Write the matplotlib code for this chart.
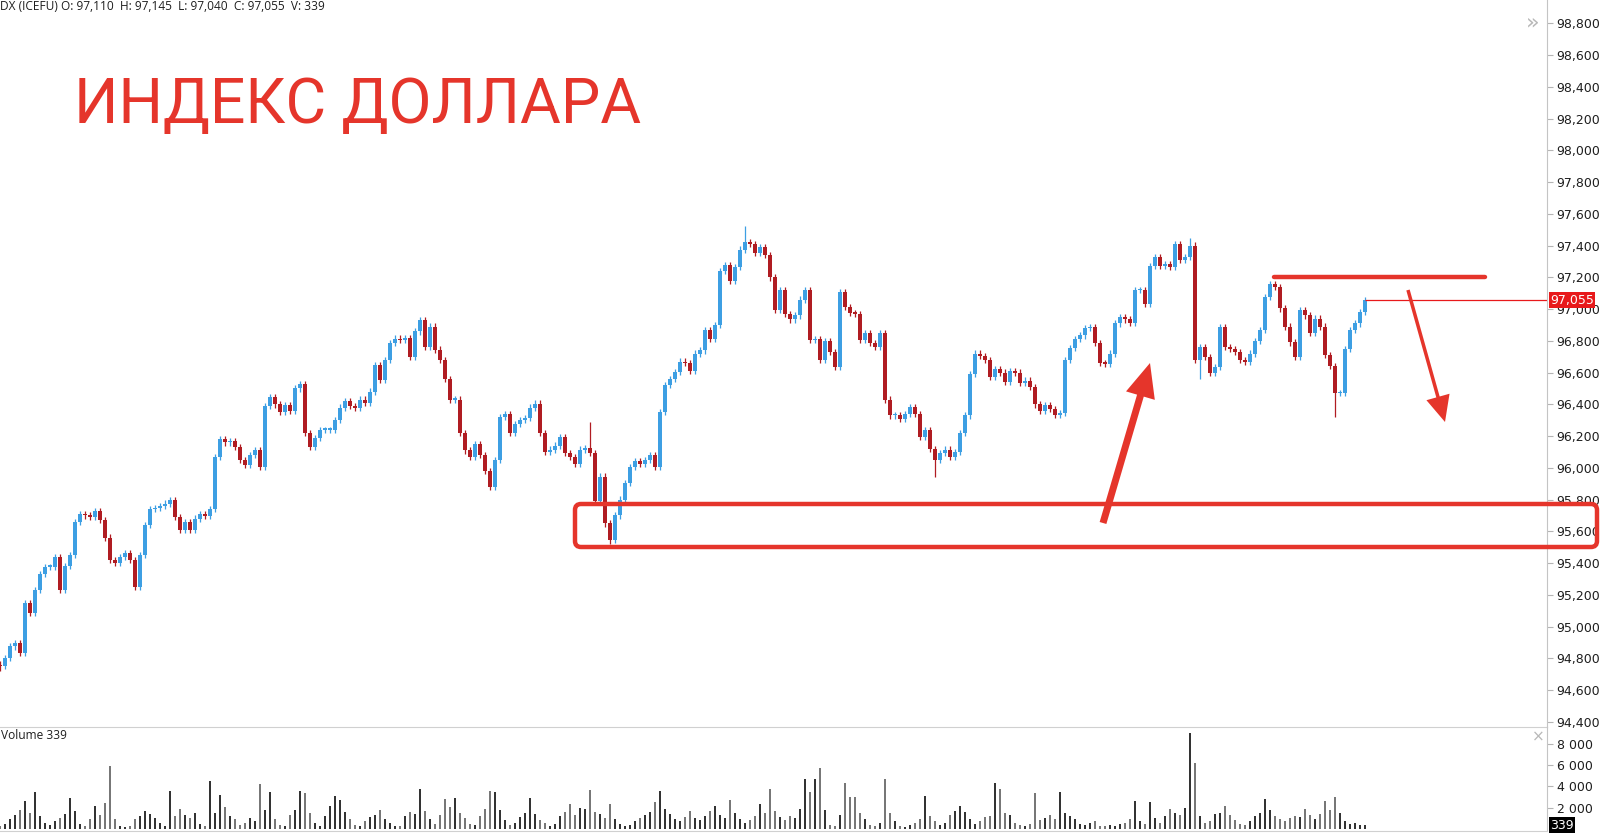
import matplotlib
matplotlib.use("Agg")
import matplotlib.pyplot as plt
from matplotlib.patches import FancyBboxPatch, FancyArrow
import numpy as np

# closes, one candle every 5 px of the original chart
closes = [
    94750, 94800, 94875, 94895, 94835, 95150, 95085, 95230, 95330, 95375,
    95375, 95440, 95230, 95380, 95450, 95660, 95710, 95700, 95690, 95730,
    95670, 95560, 95420, 95400, 95440, 95465, 95420, 95250, 95450, 95640,
    95740, 95745, 95760, 95775, 95795, 95690, 95610, 95660, 95610, 95680,
    95710, 95695, 95740, 96070, 96180, 96160, 96170, 96130, 96050, 96020,
    96080, 96110, 96005, 96390, 96445, 96400, 96355, 96395, 96360, 96500,
    96530, 96220, 96130, 96190, 96240, 96240, 96240, 96300, 96380, 96420,
    96390, 96380, 96430, 96410, 96480, 96650, 96555, 96680, 96785, 96815,
    96805, 96820, 96700, 96860, 96930, 96760, 96890, 96745, 96680, 96560,
    96430, 96430, 96220, 96110, 96070, 96150, 96080, 95980, 95880, 96050,
    96320, 96340, 96220, 96275, 96300, 96315, 96380, 96405, 96220, 96100,
    96115, 96140, 96195, 96095, 96070, 96025, 96115, 96125, 96095, 95790,
    95945, 95650, 95545, 95700, 95800, 95905, 96005, 96045, 96025, 96050,
    96080, 96005, 96350, 96520, 96560, 96605, 96670, 96660, 96610, 96720,
    96740, 96870, 96815, 96900, 97240, 97280, 97180, 97265, 97375, 97420,
    97410, 97355, 97390, 97340, 97200, 96995, 97120, 96970, 96935, 96960,
    97060, 97120, 96805, 96810, 96680, 96800, 96730, 96635, 97110, 97015,
    96975, 96970, 96805, 96850, 96785, 96760, 96850, 96430, 96330, 96330,
    96310, 96340, 96385, 96340, 96195, 96240, 96120, 96050, 96095, 96115,
    96070, 96100, 96220, 96330, 96590, 96720, 96705, 96680, 96575, 96620,
    96600, 96540, 96610, 96600, 96535, 96550, 96510, 96400, 96360, 96395,
    96370, 96335, 96345, 96680, 96755, 96810, 96835, 96880, 96885, 96785,
    96660, 96655, 96720, 96910, 96950, 96935, 96915, 97120, 97120, 97035,
    97270, 97330, 97275, 97285, 97265, 97410, 97310, 97330, 97400, 96680,
    96760, 96700, 96600, 96635, 96885, 96760, 96750, 96730, 96680, 96665,
    96720, 96800, 96870, 97075, 97160, 97140, 97005, 96890, 96790, 96700,
    96995, 96960, 96850, 96940, 96890, 96710, 96640, 96470, 96470, 96750,
    96870, 96910, 96980, 97055,
]
first_open = 94760

# longer wicks that stand out
wick_hi = {149: 97525, 238: 97450, 118: 96290}
wick_lo = {0: 94720, 122: 95520, 187: 95940, 267: 96320, 240: 96560}

volumes = [
    300, 500, 900, 1300, 1800, 2600, 1500, 3500, 1200, 600,
    400, 700, 1000, 1400, 2900, 1700, 500, 300, 900, 2200,
    1300, 2400, 5900, 900, 300, 200, 250, 900, 1200, 1700,
    1400, 1000, 600, 300, 3600, 1200, 1900, 1300, 1000, 1500,
    500, 300, 4500, 1500, 3200, 2100, 1200, 900, 400, 600,
    1000, 700, 4250, 1800, 3500, 900, 400, 300, 1300, 1800,
    3600, 3400, 1500, 600, 300, 1200, 2200, 3100, 2700, 1600,
    900, 400, 300, 700, 1100, 1300, 1750, 900, 600, 300,
    250, 1200, 1600, 1400, 3800, 1700, 900, 500, 1300, 2800,
    2100, 2900, 1500, 1000, 500, 400, 1200, 1900, 3600, 3500,
    1800, 800, 400, 600, 1100, 1500, 2900, 1400, 800, 600,
    300, 500, 1200, 1600, 2300, 1300, 2000, 1900, 3700, 1600,
    1400, 1000, 2300, 900, 500, 300, 400, 700, 1000, 1300,
    1600, 2500, 3600, 1900, 1400, 900, 700, 1100, 1650, 1000,
    800, 1200, 1700, 2200, 1300, 1000, 2700, 1500, 900, 600,
    800, 1200, 2300, 1500, 3800, 1700, 1100, 800, 1200, 1000,
    1900, 4700, 3500, 4700, 5700, 1800, 400, 300, 1300, 4300,
    3000, 3000, 1500, 900, 400, 300, 600, 4700, 1500, 700,
    300, 200, 400, 600, 900, 3100, 1200, 700, 400, 600,
    1300, 1700, 2200, 1600, 900, 500, 700, 1100, 1200, 4300,
    3800, 1500, 1300, 600, 400, 300, 500, 3400, 800, 1000,
    1300, 900, 3500, 1500, 1200, 900, 500, 400, 600, 700,
    300, 250, 400, 300, 500, 600, 900, 2650, 700, 500,
    2500, 1000, 600, 1200, 1900, 1500, 1300, 2000, 9000, 6200,
    1200, 600, 700, 1400, 1500, 2200, 1300, 800, 500, 400,
    700, 1200, 1500, 2800, 1800, 1200, 900, 700, 1000, 1200,
    1100, 1850, 1300, 900, 1400, 2650, 1800, 3000, 1500, 700,
    500, 600, 400, 339,
]

price_ticks = list(range(94400, 98801, 200))
vol_ticks = [2000, 4000, 6000, 8000]
last_price = 97055
last_volume = 339
header = "DX (ICEFU) O: 97,110  H: 97,145  L: 97,040  C: 97,055  V: 339"
title = "ИНДЕКС ДОЛЛАРА"

UP = "#3d9fe3"
DOWN = "#b01c22"
RED = "#e5352b"
W, H = 1600, 833

c = np.array(closes, dtype=float)
o = np.concatenate([[first_open], c[:-1]])
hi = np.maximum(o, c) + 20
lo = np.minimum(o, c) - 20
for i, v in wick_hi.items():
    hi[i] = v
for i, v in wick_lo.items():
    lo[i] = v
x = np.arange(len(c))
cols = np.where(c >= o, UP, DOWN)

fig = plt.figure(figsize=(W / 100, H / 100), dpi=100)
fig.patch.set_facecolor("white")

axis_x = 1547  # price scale line, px
slot = 5.0
xmax = axis_x / slot

# --- price pane (top 727 px) ---
ax = fig.add_axes([0, 1 - 727 / H, axis_x / W, 727 / H])
ax.patch.set_alpha(0)
ax.vlines(x, lo, hi, colors=cols, linewidth=0.9)
ax.bar(x, np.maximum(np.abs(c - o), 10), bottom=np.minimum(o, c), width=0.72,
       color=cols, linewidth=0)
ax.hlines(last_price, x[-1], xmax, color="#e8191b", linewidth=0.9)
ax.set_xlim(0, xmax)
ax.set_ylim(94367, 98948)
ax.set_yticks(price_ticks)
ax.set_yticklabels([f"{t:,}" for t in price_ticks])
ax.yaxis.tick_right()
ax.tick_params(axis="y", direction="out", length=4, width=0.8, color="#b5b5b5",
               labelsize=9, labelcolor="#1e1e1e", pad=3)
ax.set_xticks([])
for s in ["top", "left"]:
    ax.spines[s].set_visible(False)
ax.spines["right"].set_color("#c4c4c4")
ax.spines["bottom"].set_color("#d0d0d0")
ax.text(1.002, last_price, f"{last_price:,}", transform=ax.get_yaxis_transform(),
        ha="left", va="center", fontsize=9, color="white", clip_on=False,
        bbox=dict(boxstyle="square,pad=0.12", fc="#e8191b", ec="none"), zorder=6)

# --- volume pane (727 px down to 831 px) ---
vax = fig.add_axes([0, 2 / H, axis_x / W, (H - 727 - 2) / H])
vax.patch.set_alpha(0)
vcols = np.where(c >= o, "#333333", "#777777")
vax.bar(x, volumes, width=0.45, color=vcols, linewidth=0)
vax.set_xlim(0, xmax)
vax.set_ylim(-200, 9600)
vax.set_yticks(vol_ticks)
vax.set_yticklabels([f"{t:,}".replace(",", " ") for t in vol_ticks])
vax.yaxis.tick_right()
vax.tick_params(axis="y", direction="out", length=4, width=0.8, color="#b5b5b5",
                labelsize=9, labelcolor="#1e1e1e", pad=3)
vax.set_xticks([])
for s in ["top", "left"]:
    vax.spines[s].set_visible(False)
vax.spines["right"].set_color("#c4c4c4")
vax.spines["bottom"].set_color("#d0d0d0")
vax.text(1.002, last_volume, f"{last_volume}", transform=vax.get_yaxis_transform(),
         ha="left", va="center", fontsize=9, color="white", clip_on=False,
         bbox=dict(boxstyle="square,pad=0.12", fc="black", ec="none"), zorder=6)

# --- overlay in pixel coords for the hand drawn marks ---
ov = fig.add_axes([0, 0, 1, 1], zorder=5)
ov.set_xlim(0, W)
ov.set_ylim(H, 0)
ov.axis("off")
ov.patch.set_alpha(0)

ov.text(0, 0, header, ha="left", va="top", fontsize=8.6, color="#1e1e1e",
        family="Open Sans")
ov.text(1, 729, "Volume 339", ha="left", va="top", fontsize=8.6, color="#1e1e1e",
        family="Open Sans")
ov.text(1533, 22, "»", ha="center", va="center", fontsize=16, color="#b8b8b8")
ov.text(1538, 737, "×", ha="center", va="center", fontsize=11, color="#b8b8b8")

ov.text(74, 106, title, ha="left", va="center", fontsize=45, color=RED,
        family="Roboto")

ov.add_patch(FancyBboxPatch((575, 504), 1022, 43,
                            boxstyle="round,pad=0,rounding_size=6",
                            fill=False, ec=RED, lw=3.2))
ov.add_patch(FancyArrow(1103, 523, 47, -160, width=7, head_width=30,
                        head_length=34, length_includes_head=True,
                        color=RED, lw=0))
ov.plot([1274, 1485], [277, 277], color=RED, lw=3.2, solid_capstyle="round")
ov.add_patch(FancyArrow(1408, 290, 37, 132, width=3.5, head_width=24,
                        head_length=26, length_includes_head=True,
                        color=RED, lw=0))

fig.savefig("out.png", dpi=100)
